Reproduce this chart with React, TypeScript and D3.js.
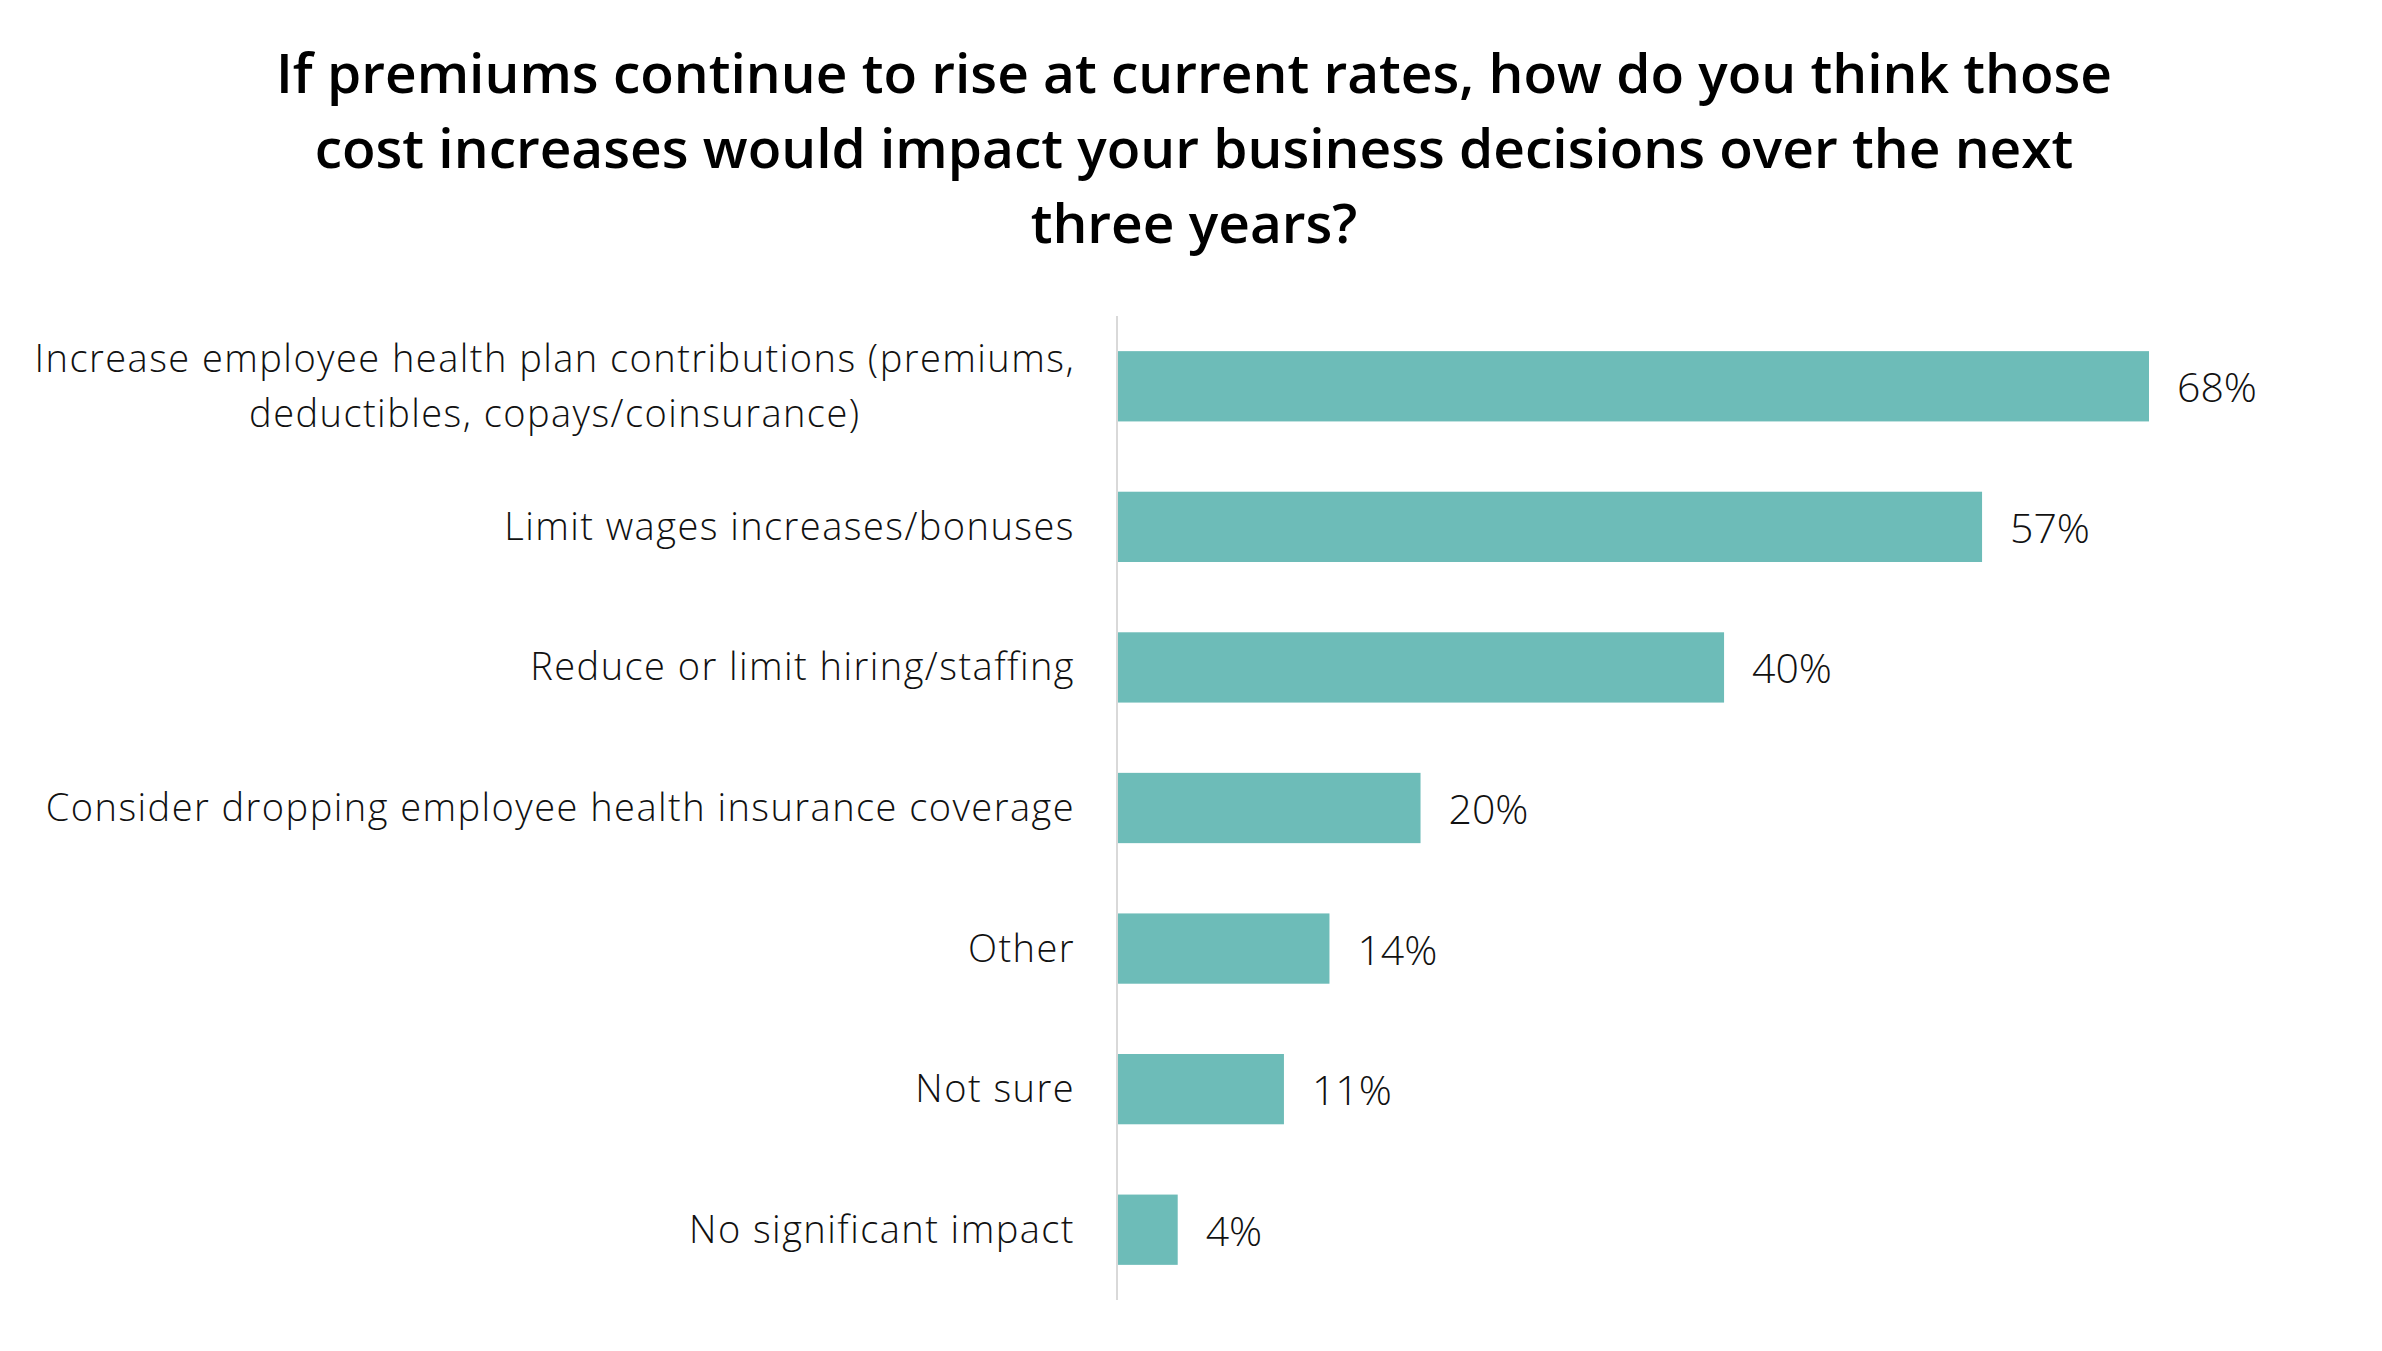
import { useRef, useEffect } from 'react';
import * as d3 from 'd3';

const titleLines = [
  'If premiums continue to rise at current rates, how do you think those',
  'cost increases would impact your business decisions over the next',
  'three years?',
];

const categories = [
  ['Increase employee health plan contributions (premiums,', 'deductibles, copays/coinsurance)'],
  ['Limit wages increases/bonuses'],
  ['Reduce or limit hiring/staffing'],
  ['Consider dropping employee health insurance coverage'],
  ['Other'],
  ['Not sure'],
  ['No significant impact'],
];

const values = [68, 57, 40, 20, 14, 11, 4];

const width = 2382;
const height = 1351;
const font = "'Open Sans', 'Noto Sans', sans-serif";

export default function App() {
  const svgRef = useRef<SVGSVGElement | null>(null);

  useEffect(() => {
    if (!svgRef.current) return;
    const svg = d3.select(svgRef.current);
    svg.selectAll('*').remove();

    const axisX = 1117;
    const labelRight = 1075;
    const x = d3.scaleLinear().domain([0, 68]).range([axisX, 2149]);
    const y = d3
      .scaleBand<number>()
      .domain(d3.range(values.length))
      .range([316, 1300])
      .paddingInner(0.5)
      .paddingOuter(0.25);

    // title
    svg
      .append('text')
      .attr('x', 1194)
      .attr('y', 93)
      .attr('text-anchor', 'middle')
      .attr('font-family', font)
      .attr('font-weight', 600)
      .attr('font-size', 55)
      .attr('fill', '#000')
      .selectAll('tspan')
      .data(titleLines)
      .join('tspan')
      .attr('x', 1194)
      .attr('dy', (_, i) => (i === 0 ? 0 : 75))
      .text((d) => d);

    // bars
    svg
      .append('g')
      .selectAll('rect')
      .data(values)
      .join('rect')
      .attr('x', axisX)
      .attr('y', (_, i) => y(i)!)
      .attr('width', (d) => x(d) - axisX)
      .attr('height', y.bandwidth())
      .attr('fill', '#6dbcb8');

    // axis line
    svg
      .append('line')
      .attr('x1', axisX)
      .attr('x2', axisX)
      .attr('y1', 316)
      .attr('y2', 1300)
      .attr('stroke', '#d9d9d9')
      .attr('stroke-width', 2);

    // value labels
    svg
      .append('g')
      .selectAll('text')
      .data(values)
      .join('text')
      .attr('x', (d) => x(d) + 28)
      .attr('y', (_, i) => y(i)! + y.bandwidth() / 2 + 16)
      .attr('font-family', font)
      .attr('font-weight', 300)
      .attr('font-size', 41)
      .attr('fill', '#111')
      .text((d) => `${d}%`);

    // category labels
    const lineH = 55;
    const g = svg.append('g');
    categories.forEach((lines, i) => {
      const cy = y(i)! + y.bandwidth() / 2;
      const y0 = cy + 13 - ((lines.length - 1) * lineH) / 2;
      let center = labelRight;
      lines.forEach((l, j) => {
        const t = g
          .append('text')
          .attr('font-family', font)
          .attr('font-weight', 300)
          .attr('font-size', 38)
          .attr('letter-spacing', 1.45)
          .attr('fill', '#111')
          .attr('y', y0 + j * lineH)
          .text(l);
        if (j === 0) {
          t.attr('x', labelRight).attr('text-anchor', 'end');
          const w = (t.node() as SVGTextElement).getComputedTextLength();
          center = labelRight - w / 2;
        } else {
          t.attr('x', center).attr('text-anchor', 'middle');
        }
      });
    });
  }, []);

  return (
    <svg
      ref={svgRef}
      width={width}
      height={height}
      style={{ position: 'absolute', left: 0, top: 0, background: '#fff' }}
    />
  );
}
